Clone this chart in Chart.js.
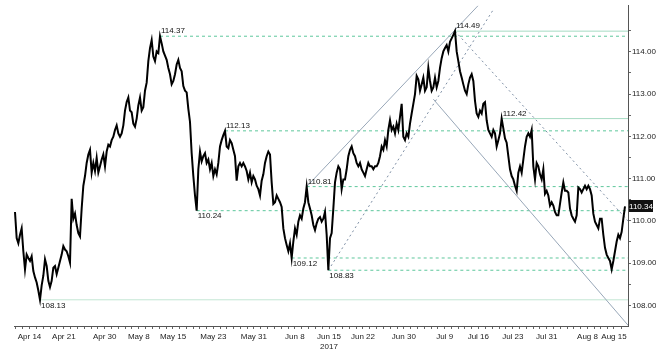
<!DOCTYPE html>
<html><head><meta charset="utf-8">
<script src="https://cdn.jsdelivr.net/npm/chart.js@4/dist/chart.umd.min.js"></script>
<style>html,body{margin:0;padding:0;background:#fff;}#c{display:block;}</style>
</head><body>
<canvas id="c" width="656" height="355"></canvas>
<script>
// time index: ~6-hour trading periods
const startPeriod = 3;
const prices = [
110.21,109.59,109.47,109.67,109.82,109.28,108.85,
109.20,109.12,109.05,109.16,108.81,108.66,108.54,108.35,108.13,108.47,
108.70,109.09,108.93,108.58,108.43,108.58,108.89,108.93,108.74,108.89,
109.05,109.20,109.40,109.32,109.28,109.16,109.01,110.52,110.05,110.17,
109.90,109.71,109.63,110.29,110.83,111.06,111.37,111.57,111.68,111.14,
111.37,111.18,111.49,111.14,111.29,111.45,111.57,111.29,111.64,111.80,
111.76,111.91,111.99,112.15,112.26,112.07,111.99,112.07,112.26,112.61,
112.81,112.92,112.61,112.57,112.30,112.23,112.42,112.73,112.92,112.61,
112.69,113.08,113.27,113.78,114.09,114.28,113.89,113.78,114.01,113.97,
114.37,114.20,114.01,113.91,113.81,113.62,113.47,113.23,113.31,113.47,
113.70,113.81,113.62,113.54,113.19,113.08,113.04,112.65,112.34,111.60,
111.06,110.60,110.24,111.22,111.64,111.41,111.53,111.60,111.37,111.45,
111.22,111.37,111.06,111.22,111.10,111.37,111.76,111.91,112.03,112.13,
111.76,111.72,111.91,111.84,111.68,111.53,110.95,111.29,111.37,111.29,
111.37,111.29,111.18,110.98,111.14,110.91,111.06,110.98,110.83,110.75,
110.60,110.95,111.10,111.37,111.53,111.64,111.57,110.91,110.40,110.44,
110.60,110.52,110.44,110.33,109.82,109.59,109.43,109.28,109.47,109.12,
109.51,109.82,109.67,109.98,110.13,110.05,110.29,110.44,110.81,110.44,
110.29,110.13,109.90,109.78,109.94,110.05,110.09,109.98,110.05,110.21,
109.67,108.83,109.59,109.71,110.29,110.91,111.14,111.29,111.22,110.75,
110.98,110.98,111.22,111.53,111.68,111.76,111.60,111.53,111.37,111.29,
111.37,111.22,111.14,111.06,111.22,111.37,111.29,111.29,111.22,111.29,
111.29,111.37,111.53,111.76,111.68,111.91,111.76,112.15,112.38,112.15,
112.23,112.07,112.30,112.15,112.46,112.77,111.99,111.91,112.07,111.99,
112.30,112.54,112.77,113.00,113.43,113.35,113.08,113.23,113.39,113.08,
113.16,113.62,113.31,113.08,113.16,113.39,113.16,113.31,113.62,113.85,
114.01,114.09,114.16,114.01,114.24,114.32,114.40,114.49,114.01,113.78,
113.54,113.39,113.23,113.08,113.00,113.23,113.39,113.47,113.31,112.84,
112.54,112.46,112.61,112.54,112.77,112.81,112.38,112.15,112.07,111.99,
112.15,112.07,111.76,111.91,112.07,112.42,112.19,111.95,111.85,111.53,
111.22,111.06,110.98,110.83,110.71,111.14,111.29,111.14,111.45,111.76,
111.99,112.07,111.99,112.15,111.29,110.98,111.37,111.29,111.10,110.98,
111.22,110.64,110.71,110.60,110.36,110.44,110.36,110.21,110.13,110.13,
110.40,110.67,110.91,110.71,110.71,110.67,110.29,110.13,110.05,109.98,
110.13,110.79,110.75,110.67,110.75,110.83,110.75,110.83,110.75,110.60,
110.17,109.98,109.90,109.82,110.05,110.05,109.67,109.36,109.20,109.12,
109.05,108.85,109.05,109.28,109.51,109.67,109.59,109.74,110.05,110.34
];
const tickPeriods = [11.7, 32.3, 56.8, 77.3, 97.8, 122, 146.3, 170.9, 191.4, 211.8, 236.3, 260.8, 281, 301.7, 322, 346.5, 362.4];
const tickLabels = ['Apr 14','Apr 21','Apr 30','May 8','May 15','May 23','May 31','Jun 8',['Jun 15','2017'],'Jun 22','Jun 30','Jul 9','Jul 16','Jul 23','Jul 31','Aug 8','Aug 15'];
const yTickValues = [108, 108.5, 109, 109.5, 110, 110.5, 111, 111.5, 112, 112.5, 113, 113.5, 114, 114.5];
const levelValues  = [114.37, 112.13, 110.81, 110.24, 109.12, 108.83, 114.49, 112.42, 108.13];
const levelPeriods = [90, 129, 178, 112, 169, 191, 267, 295, 18];
const levelKinds   = ['high','high','high','low','low','low','high','high','low'];
const levelSolid   = [false,false,false,false,false,false,true,true,true];
const trendFrom = [[178,110.81],[191,108.83],[254,112.88],[267,114.49]];
const trendTo   = [[281,115.10],[290,115.00],[371,107.52],[371,109.99]];
const trendDotted = [false,true,false,true];
const lastPrice = 110.34;
const xMin = 2.4, xMax = 370.8, yMin = 107.51, yMax = 115.09;

const FONT = "'Liberation Sans Narrow','Arial Narrow','Liberation Sans',sans-serif";

const datasets = [];
datasets.push({
  label: 'USDJPY',
  data: prices.map((p, k) => ({x: startPeriod + k, y: p})),
  borderColor: '#000', borderWidth: 2, pointRadius: 0, tension: 0, order: 0
});
levelValues.forEach((v, k) => {
  datasets.push({
    data: [{x: levelPeriods[k], y: v}, {x: xMax, y: v}],
    borderColor: levelSolid[k] ? (v < 108.5 ? '#c3e6d4' : '#a6dbc3') : '#5ec79c',
    borderWidth: 1, borderDash: levelSolid[k] ? [] : [3, 3],
    pointRadius: 0, order: 2, clip: 0
  });
});
trendFrom.forEach((a, k) => {
  datasets.push({
    data: [{x: a[0], y: a[1]}, {x: trendTo[k][0], y: trendTo[k][1]}],
    borderColor: trendDotted[k] ? '#7d8ea4' : '#98a7b8',
    borderWidth: 1, borderDash: trendDotted[k] ? [2, 3] : [],
    pointRadius: 0, order: 1, clip: 0
  });
});

const annot = {
  id: 'annot',
  afterDatasetsDraw(chart) {
    const ctx = chart.ctx, xs = chart.scales.x, ys = chart.scales.y;
    ctx.save();
    ctx.font = '8px ' + FONT;
    ctx.fillStyle = '#111';
    ctx.textAlign = 'left';
    levelValues.forEach((v, k) => {
      const x = xs.getPixelForValue(levelPeriods[k]);
      const y = ys.getPixelForValue(v);
      if (levelKinds[k] === 'high') { ctx.textBaseline = 'bottom'; ctx.fillText(v.toFixed(2), x + 1, y - 1); }
      else { ctx.textBaseline = 'top'; ctx.fillText(v.toFixed(2), x + 1, y + 1.5); }
    });
    const py = ys.getPixelForValue(lastPrice);
    const bx = chart.chartArea.right + 1;
    ctx.fillStyle = '#111';
    ctx.fillRect(bx, Math.round(py) - 6, 24, 12);
    ctx.fillStyle = '#fff';
    ctx.textAlign = 'center'; ctx.textBaseline = 'middle';
    ctx.fillText(lastPrice.toFixed(2), bx + 12, Math.round(py) + 0.5);
    ctx.restore();
  }
};

new Chart(document.getElementById('c'), {
  type: 'line',
  data: { datasets },
  options: {
    responsive: false, animation: false,
    layout: { padding: { left: 14, top: 0, right: 0, bottom: 0 } },
    plugins: { legend: { display: false }, tooltip: { enabled: false } },
    scales: {
      x: {
        type: 'linear', min: xMin, max: xMax,
        afterBuildTicks(scale) {
          const vals = [];
          for (let k = 0; k < tickPeriods.length; k++) {
            vals.push(tickPeriods[k]);
            const a = tickPeriods[k], b = k + 1 < tickPeriods.length ? tickPeriods[k + 1] : xMax;
            const n = Math.round((b - a) / 4.08);
            for (let j = 1; j < n; j++) vals.push(a + (b - a) * j / n);
          }
          for (let v = tickPeriods[0] - 4.08; v > xMin; v -= 4.08) vals.push(v);
          vals.sort((p, q) => p - q);
          scale.ticks = vals.map(v => ({ value: v }));
        },
        afterFit(scale) { scale.height = 29; },
        ticks: {
          autoSkip: false, maxRotation: 0, minRotation: 0, padding: 3,
          color: '#222', font: { family: FONT, size: 8 },
          callback(value) { const k = tickPeriods.indexOf(value); return k >= 0 ? tickLabels[k] : ''; }
        },
        grid: { display: true, drawOnChartArea: false, drawTicks: true, tickLength: 3, tickColor: '#666' },
        border: { display: true, color: '#555', width: 1 }
      },
      y: {
        type: 'linear', position: 'right', min: yMin, max: yMax,
        afterBuildTicks(scale) { scale.ticks = yTickValues.map(v => ({ value: v })); },
        afterFit(scale) { scale.width = 28; },
        ticks: {
          padding: 1, color: '#222', font: { family: FONT, size: 8 },
          callback(value) { return Number.isInteger(value) ? value.toFixed(2) : ''; }
        },
        grid: { display: true, drawOnChartArea: false, drawTicks: true, tickLength: 3, tickColor: '#666' },
        border: { display: true, color: '#555', width: 1 }
      }
    }
  },
  plugins: [annot]
});
</script>
</body></html>
